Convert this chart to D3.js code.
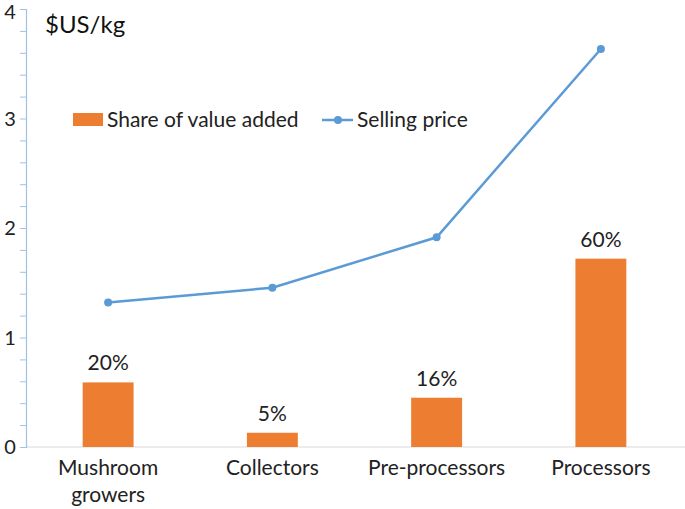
<!DOCTYPE html>
<html>
<head>
<meta charset="utf-8">
<script src="https://cdn.jsdelivr.net/npm/d3@7"></script>
<style>
  body { margin: 0; background: white; }
</style>
</head>
<body>
<script>
const categories = [["Mushroom", "growers"], ["Collectors"], ["Pre-processors"], ["Processors"]];
const shareValues = [0.59, 0.13, 0.45, 1.72];
const shareLabels = ["20%", "5%", "16%", "60%"];
const priceValues = [1.32, 1.455, 1.915, 3.635];
const yTicks = [0, 1, 2, 3, 4];

const font = "Lato, 'Open Sans', sans-serif";

const svg = d3.select("body").append("svg")
  .attr("width", 685)
  .attr("height", 509);

const x = d3.scaleBand()
  .domain(d3.range(categories.length))
  .range([26, 683])
  .paddingInner(0.69)
  .paddingOuter(0.345);

const y = d3.scaleLinear()
  .domain([0, 4])
  .range([447, 9]);

// x baseline
svg.append("line")
  .attr("x1", 26).attr("x2", 685)
  .attr("y1", y(0)).attr("y2", y(0))
  .attr("stroke", "#d9d9d9")
  .attr("stroke-width", 1);

// y axis
const yAxis = d3.axisLeft(y)
  .tickValues(d3.range(0, 4.01, 0.2))
  .tickSize(6)
  .tickFormat("");
const gy = svg.append("g")
  .attr("transform", "translate(26,0)")
  .call(yAxis);
gy.select(".domain").attr("stroke", "#9dc3e6").attr("stroke-width", 1.2);
gy.selectAll(".tick line").attr("stroke", "#9dc3e6");

svg.selectAll(".ylab")
  .data(yTicks)
  .enter()
  .append("text")
    .attr("x", 10)
    .attr("y", d => Math.max(y(d) + 7, 19))
    .attr("text-anchor", "middle")
    .attr("font-family", font)
    .attr("font-size", "20px")
    .attr("fill", "#222")
    .text(d => d);

// bars
svg.selectAll(".bar")
  .data(shareValues)
  .enter()
  .append("rect")
    .attr("x", (d, i) => x(i))
    .attr("y", d => y(d))
    .attr("width", x.bandwidth())
    .attr("height", d => y(0) - y(d))
    .attr("fill", "#ed7d31");

svg.selectAll(".barlab")
  .data(shareValues)
  .enter()
  .append("text")
    .attr("x", (d, i) => x(i) + x.bandwidth() / 2)
    .attr("y", d => y(d) - 12)
    .attr("text-anchor", "middle")
    .attr("font-family", font)
    .attr("font-size", "21px")
    .attr("fill", "#222")
    .text((d, i) => shareLabels[i]);

// line
const cx = i => x(i) + x.bandwidth() / 2;
const line = d3.line()
  .x((d, i) => cx(i))
  .y(d => y(d));

svg.append("path")
  .datum(priceValues)
  .attr("d", line)
  .attr("fill", "none")
  .attr("stroke", "#5b9bd5")
  .attr("stroke-width", 2.5);

svg.selectAll(".pt")
  .data(priceValues)
  .enter()
  .append("circle")
    .attr("cx", (d, i) => cx(i))
    .attr("cy", d => y(d))
    .attr("r", 4)
    .attr("fill", "#5b9bd5");

// category labels
categories.forEach((lines, i) => {
  lines.forEach((t, j) => {
    svg.append("text")
      .attr("x", cx(i))
      .attr("y", 475 + j * 27)
      .attr("text-anchor", "middle")
      .attr("font-family", font)
      .attr("font-size", "21px")
      .attr("fill", "#222")
      .text(t);
  });
});

// unit label
svg.append("text")
  .attr("x", 45)
  .attr("y", 33)
  .attr("font-family", font)
  .attr("font-size", "24px")
  .attr("fill", "#111")
  .text("$US/kg");

// legend
svg.append("rect")
  .attr("x", 73).attr("y", 113)
  .attr("width", 30).attr("height", 13)
  .attr("fill", "#ed7d31");
svg.append("text")
  .attr("x", 107).attr("y", 127)
  .attr("font-family", font)
  .attr("font-size", "21px")
  .attr("fill", "#222")
  .text("Share of value added");
svg.append("line")
  .attr("x1", 322).attr("x2", 353)
  .attr("y1", 120).attr("y2", 120)
  .attr("stroke", "#5b9bd5")
  .attr("stroke-width", 2.5);
svg.append("circle")
  .attr("cx", 338).attr("cy", 120).attr("r", 4)
  .attr("fill", "#5b9bd5");
svg.append("text")
  .attr("x", 357).attr("y", 127)
  .attr("font-family", font)
  .attr("font-size", "21px")
  .attr("fill", "#222")
  .text("Selling price");
</script>
</body>
</html>
